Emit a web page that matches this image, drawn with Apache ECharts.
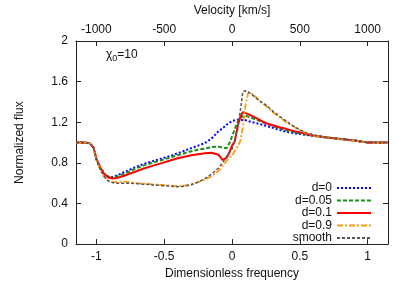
<!DOCTYPE html>
<html>
<head>
<meta charset="utf-8">
<script src="https://cdn.jsdelivr.net/npm/echarts@6/dist/echarts.min.js"></script>
<style>
    html, body { margin: 0; padding: 0; background: #fff; }
    #chart { width: 407px; height: 285px; }
</style>
</head>
<body>
<div id="chart"></div>
<script>
// dimensionless frequency (shared x values)
var freq = [-1.15, -1.1, -1.05, -1.02, -1.0, -0.97, -0.94, -0.91,
    -0.88, -0.85, -0.8, -0.75, -0.7, -0.65, -0.6, -0.55, -0.5, -0.45, -0.4, -0.35,
    -0.3, -0.25, -0.2, -0.15, -0.1, -0.07, -0.04, -0.02,
    0, 0.02, 0.04, 0.06, 0.08, 0.1, 0.12, 0.15,
    0.2, 0.25, 0.3, 0.35, 0.4, 0.45, 0.5, 0.55, 0.6,
    0.7, 0.8, 0.9, 1.0, 1.05, 1.1, 1.15];

var fluxD0 = [1.0, 1.0, 0.995, 0.95, 0.84, 0.75, 0.69, 0.665,
    0.66, 0.675, 0.705, 0.735, 0.765, 0.79, 0.81, 0.83, 0.85, 0.87, 0.895, 0.92,
    0.945, 0.97, 0.995, 1.04, 1.11, 1.14, 1.175, 1.195,
    1.21, 1.22, 1.225, 1.225, 1.22, 1.22, 1.21, 1.2,
    1.185, 1.165, 1.145, 1.125, 1.105, 1.095, 1.085, 1.075, 1.065,
    1.05, 1.035, 1.02, 1.0, 1.0, 1.0, 1.0];

var fluxD005 = [1.0, 1.0, 0.995, 0.95, 0.84, 0.75, 0.69, 0.66,
    0.655, 0.665, 0.69, 0.72, 0.75, 0.775, 0.795, 0.815, 0.835, 0.855, 0.875, 0.895,
    0.915, 0.93, 0.94, 0.955, 0.96, 0.95, 0.945, 0.99,
    1.06, 1.13, 1.2, 1.24, 1.26, 1.265, 1.255, 1.24,
    1.215, 1.19, 1.165, 1.14, 1.12, 1.105, 1.09, 1.078, 1.067,
    1.05, 1.035, 1.02, 1.0, 1.0, 1.0, 1.0];

var fluxD01 = [1.0, 1.0, 0.995, 0.95, 0.84, 0.75, 0.685, 0.655,
    0.645, 0.65, 0.67, 0.695, 0.72, 0.745, 0.765, 0.785, 0.805, 0.825, 0.845, 0.86,
    0.875, 0.885, 0.895, 0.9, 0.88, 0.83, 0.85, 0.9,
    0.97, 1.01, 1.15, 1.25, 1.3, 1.29, 1.28, 1.26,
    1.225, 1.19, 1.17, 1.15, 1.135, 1.115, 1.1, 1.085, 1.07,
    1.05, 1.035, 1.02, 1.0, 1.0, 1.0, 1.0];

var fluxD09 = [1.0, 1.0, 0.995, 0.95, 0.83, 0.73, 0.66, 0.625,
    0.61, 0.61, 0.615, 0.61, 0.6, 0.595, 0.59, 0.585, 0.58, 0.575, 0.57, 0.575,
    0.59, 0.61, 0.635, 0.67, 0.72, 0.77, 0.82, 0.85,
    0.87, 0.92, 0.96, 1.01, 1.15, 1.37, 1.49, 1.48,
    1.42, 1.36, 1.3, 1.25, 1.2, 1.16, 1.12, 1.09, 1.07,
    1.05, 1.035, 1.02, 1.0, 1.0, 1.0, 1.0];

var fluxSmooth = [1.0, 1.0, 0.995, 0.95, 0.83, 0.73, 0.66, 0.62,
    0.605, 0.6, 0.6, 0.6, 0.595, 0.59, 0.585, 0.58, 0.575, 0.57, 0.565, 0.57,
    0.585, 0.61, 0.645, 0.69, 0.75, 0.8, 0.86, 0.9,
    0.935, 1.02, 1.12, 1.3, 1.5, 1.51, 1.5, 1.47,
    1.41, 1.37, 1.31, 1.26, 1.21, 1.165, 1.125, 1.095, 1.075,
    1.05, 1.035, 1.025, 1.0, 1.0, 1.0, 1.0];

var freqTicks = [-1, -0.5, 0, 0.5, 1];
var velTicks = [-1000, -500, 0, 500, 1000];

function pairs(ys) {
    return freq.map(function (x, i) { return [x, ys[i]]; });
}

var font = 'Liberation Sans';
var axisColor = '#222';

var myChart = echarts.init(document.getElementById('chart'));
var option = {
    animation: false,
    textStyle: { fontFamily: font, color: '#111' },
    grid: { left: 76, right: 19, top: 37, bottom: 40, containLabel: false },
    xAxis: [
        {
            type: 'value', position: 'bottom', min: -1.15, max: 1.15,
            name: 'Dimensionless frequency', nameLocation: 'middle', nameGap: 22,
            nameTextStyle: { fontSize: 12, color: '#111', fontFamily: font },
            axisLine: { show: true, onZero: false, lineStyle: { color: axisColor, width: 1 } },
            axisTick: { inside: true, length: 5, customValues: freqTicks, lineStyle: { color: axisColor } },
            axisLabel: { customValues: freqTicks, fontSize: 12, color: '#111', margin: 7, fontFamily: font },
            splitLine: { show: false }
        },
        {
            type: 'value', position: 'top', min: -1150, max: 1150,
            name: 'Velocity [km/s]', nameLocation: 'middle', nameGap: 24,
            nameTextStyle: { fontSize: 12, color: '#111', fontFamily: font },
            axisLine: { show: true, onZero: false, lineStyle: { color: axisColor, width: 1 } },
            axisTick: { inside: true, length: 5, customValues: velTicks, lineStyle: { color: axisColor } },
            axisLabel: {
                customValues: velTicks, fontSize: 12, color: '#111', margin: 5, fontFamily: font,
                formatter: function (v) { return String(v); }
            },
            splitLine: { show: false }
        }
    ],
    yAxis: [
        {
            type: 'value', position: 'left', min: 0, max: 2, interval: 0.4,
            name: 'Normalized flux', nameLocation: 'middle', nameGap: 50,
            nameTextStyle: { fontSize: 12, color: '#111', fontFamily: font },
            axisLine: { show: true, onZero: false, lineStyle: { color: axisColor, width: 1 } },
            axisTick: { inside: true, length: 5, lineStyle: { color: axisColor } },
            axisLabel: { fontSize: 12, color: '#111', margin: 8, fontFamily: font },
            splitLine: { show: false }
        },
        {
            type: 'value', position: 'right', min: 0, max: 2, interval: 0.4,
            axisLine: { show: true, onZero: false, lineStyle: { color: axisColor, width: 1 } },
            axisTick: { inside: true, length: 5, lineStyle: { color: axisColor } },
            axisLabel: { show: false },
            splitLine: { show: false }
        }
    ],
    legend: {
        orient: 'vertical', right: 30, top: 177, align: 'right',
        itemWidth: 34, itemHeight: 8, itemGap: 0.5,
        itemStyle: { opacity: 0 },
        textStyle: { fontSize: 12, lineHeight: 12, color: '#111', fontFamily: font },
        data: ['d=0', 'd=0.05', 'd=0.1', 'd=0.9', 'smooth']
    },
    graphic: [
        {
            type: 'text', left: 106, top: 49,
            style: {
                text: '{a|χ}{s|0}{a|=10}',
                rich: {
                    a: { fontSize: 12, fontFamily: font, fill: '#111' },
                    s: { fontSize: 9, fontFamily: font, fill: '#111', padding: [7, 0, 0, 0] }
                }
            }
        }
    ],
    series: [
        {
            name: 'd=0', type: 'line', data: pairs(fluxD0), showSymbol: false, symbol: 'none',
            itemStyle: { color: '#0000ff' },
            lineStyle: { color: '#0000ff', width: 2, type: [2, 2] }
        },
        {
            name: 'd=0.05', type: 'line', data: pairs(fluxD005), showSymbol: false, symbol: 'none',
            itemStyle: { color: '#1a8f1a' },
            lineStyle: { color: '#1a8f1a', width: 2, type: [4, 2] }
        },
        {
            name: 'd=0.1', type: 'line', data: pairs(fluxD01), showSymbol: false, symbol: 'none',
            itemStyle: { color: '#ff0000' },
            lineStyle: { color: '#ff0000', width: 2 }
        },
        {
            name: 'd=0.9', type: 'line', data: pairs(fluxD09), showSymbol: false, symbol: 'none',
            itemStyle: { color: '#ff9a10' },
            lineStyle: { color: '#ff9a10', width: 1.8, type: [6, 2, 2, 2] }
        },
        {
            name: 'smooth', type: 'line', data: pairs(fluxSmooth), showSymbol: false, symbol: 'none',
            itemStyle: { color: '#555555' },
            lineStyle: { color: '#555555', width: 1.5, type: [3, 2] }
        }
    ]
};
myChart.setOption(option);
</script>
</body>
</html>
